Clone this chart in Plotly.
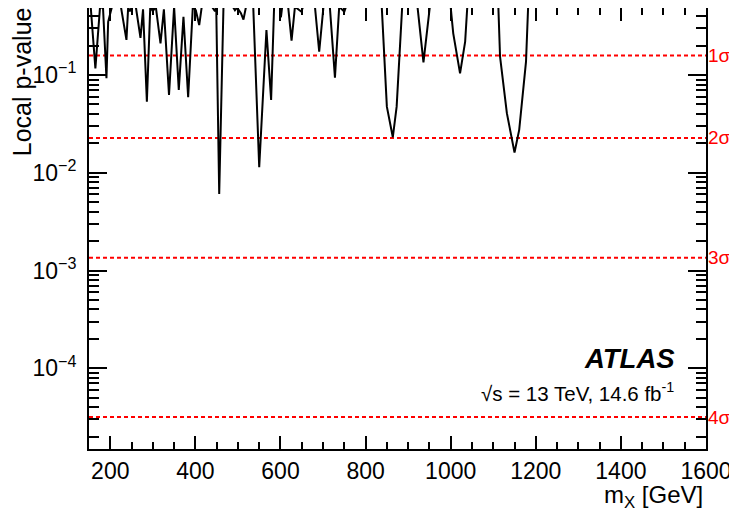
import plotly.graph_objects as go
import math

# ---- data ----
mass = [150, 154, 165, 176, 183, 191, 195, 204, 225, 238, 242, 246, 251, 260, 271, 277,
        286, 294, 300, 307, 318, 326, 338, 350, 361, 372, 383, 394, 401, 409, 415, 439,
        446, 449, 456, 466, 488, 493, 498, 507, 513, 519, 536, 550, 567, 578, 585, 599,
        601, 604, 618, 626, 634, 649, 653, 681, 691, 701, 716, 728, 738, 750, 754, 838,
        850, 864, 873, 886, 922, 936, 951, 1000, 1002, 1006, 1022, 1034, 1039, 1112,
        1116, 1132, 1150, 1161, 1177, 1182, 1200]
pval = [0.5, 0.5, 0.117, 0.5, 0.48, 0.093, 0.35, 0.5, 0.5, 0.229, 0.49, 0.45, 0.5, 0.5,
        0.24, 0.47, 0.0534, 0.5, 0.45, 0.5, 0.211, 0.47, 0.0627, 0.5, 0.0705, 0.395,
        0.0593, 0.5, 0.46, 0.325, 0.5, 0.5, 0.45, 0.5, 0.00608, 0.5, 0.5, 0.46, 0.49,
        0.43, 0.37, 0.5, 0.5, 0.0114, 0.289, 0.0556, 0.5, 0.5, 0.39, 0.5, 0.5, 0.225,
        0.5, 0.445, 0.5, 0.5, 0.173, 0.5, 0.5, 0.094, 0.5, 0.445, 0.5, 0.5, 0.0475,
        0.0231, 0.0475, 0.5, 0.5, 0.135, 0.5, 0.5, 0.40, 0.267, 0.104, 0.22, 0.5, 0.5,
        0.154, 0.0407, 0.0161, 0.0275, 0.137, 0.5, 0.5]

sigma_labels = ["1σ", "2σ", "3σ", "4σ"]
sigma_pvals = [0.1587, 0.02275, 0.00135, 3.167e-5]

y_tick_vals = [1e-4, 1e-3, 1e-2, 1e-1]
y_tick_exps = ["−4", "−3", "−2", "−1"]

x_range = [150, 1600]
y_log_range = [-4.826, -0.314]

FONT = "Liberation Sans, Arial, Helvetica, sans-serif"

fig = go.Figure()

for p in sigma_pvals:
    fig.add_trace(go.Scatter(x=x_range, y=[p, p], mode="lines",
                             line=dict(color="#ff0000", width=2, dash="4px,3px"),
                             hoverinfo="skip", showlegend=False))

fig.add_trace(go.Scatter(x=mass, y=pval, mode="lines",
                         line=dict(color="black", width=2),
                         showlegend=False))

for lab, p in zip(sigma_labels, sigma_pvals):
    fig.add_annotation(text=lab, x=1.0, xref="paper", y=math.log10(p), yref="y",
                       xanchor="left", yanchor="middle", xshift=0, showarrow=False,
                       font=dict(family=FONT, size=19, color="#ff0000"))

fig.add_annotation(text="<b><i>ATLAS</i></b>", x=0.953, xref="paper", y=0.205, yref="paper",
                   xanchor="right", yanchor="middle", showarrow=False,
                   font=dict(family=FONT, size=27.5, color="black"))
fig.add_annotation(text="√s = 13 TeV, 14.6 fb<sup>-1</sup>", x=0.952, xref="paper",
                   y=0.130, yref="paper", xanchor="right", yanchor="middle",
                   showarrow=False, font=dict(family=FONT, size=20.5, color="black"))
fig.add_annotation(text="m<sub>X</sub> [GeV]", x=0.998, xref="paper", y=-0.107, yref="paper",
                   xanchor="right", yanchor="middle", showarrow=False,
                   font=dict(family=FONT, size=24, color="black"))
fig.add_annotation(text="Local p-value", x=-0.109, xref="paper", y=1.0, yref="paper",
                   xanchor="center", yanchor="top", yshift=3, textangle=-90, showarrow=False,
                   font=dict(family=FONT, size=25, color="black"))

fig.update_xaxes(range=x_range, showline=True, linecolor="black", linewidth=2,
                 mirror="ticks", ticks="inside", ticklen=13, tickwidth=2, tickcolor="black",
                 tick0=200, dtick=200, showgrid=False, zeroline=False, automargin=False,
                 tickfont=dict(family=FONT, size=23, color="black"),
                 minor=dict(dtick=50, tick0=0, ticks="inside", ticklen=7, tickwidth=2,
                            tickcolor="black", showgrid=False))
fig.update_yaxes(type="log", range=y_log_range,
                 showline=True, linecolor="black", linewidth=2, mirror="ticks",
                 ticks="inside", ticklen=18, tickwidth=2, tickcolor="black",
                 tickmode="array", tickvals=y_tick_vals,
                 ticktext=["10<sup>" + e + "</sup>" for e in y_tick_exps],
                 showgrid=False, zeroline=False,
                 automargin=False, ticklabelstandoff=6,
                 tickfont=dict(family=FONT, size=23, color="black"),
                 minor=dict(dtick="D1", ticks="inside", ticklen=10, tickwidth=2,
                            tickcolor="black", showgrid=False))

# page body has an 8px margin, so the figure is sized to fit the 737x513 window
fig.update_layout(width=729, height=505, plot_bgcolor="white", paper_bgcolor="white",
                  margin=dict(l=81, r=31, t=0, b=64), showlegend=False)

fig.write_html("out.html")
